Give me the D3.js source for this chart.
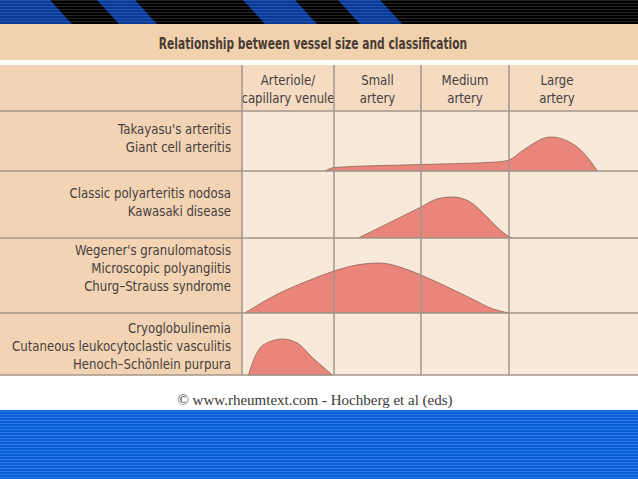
<!DOCTYPE html>
<html>
<head>
<meta charset="utf-8">
<script src="https://cdn.jsdelivr.net/npm/d3@7"></script>
<style>
  body { margin: 0; background: #fff; }
  svg { display: block; }
</style>
</head>
<body>
<script>
// column headings (vessel size), one array of lines per column
var vesselSizes = [
  ["Arteriole/", "capillary venule"],
  ["Small", "artery"],
  ["Medium", "artery"],
  ["Large", "artery"]
];

// row labels, one array of lines per row
var diseaseGroups = [
  ["Takayasu's arteritis", "Giant cell arteritis"],
  ["Classic polyarteritis nodosa", "Kawasaki disease"],
  ["Wegener's granulomatosis", "Microscopic polyangiitis", "Churg\u2013Strauss syndrome"],
  ["Cryoglobulinemia", "Cutaneous leukocytoclastic vasculitis", "Henoch\u2013Sch\u00f6nlein purpura"]
];

// [vessel size position (0 = start of arteriole column, 4 = end of large), relative involvement]
var largeVesselCurve = [[0.90, 0], [0.96, 5], [1.0, 7], [2.0, 13], [2.86, 18], [3.0, 22],
  [3.15, 42], [3.43, 68], [3.71, 48], [3.84, 22], [3.92, 0]];
var mediumVesselCurve = [[1.28, 0], [2.0, 62], [2.18, 78], [2.36, 82], [2.56, 72],
  [2.75, 42], [2.9, 16], [2.99, 4], [3.03, 0]];
var ancaCurve = [[0.03, 0], [0.41, 40], [0.74, 66], [1.0, 84], [1.26, 96], [1.53, 100],
  [1.79, 90], [2.0, 76], [2.3, 52], [2.56, 30], [2.82, 8], [3.0, 0]];
var smallVesselCurve = [[0.07, 0], [0.14, 36], [0.23, 60], [0.44, 72], [0.6, 64],
  [0.77, 34], [0.92, 10], [0.98, 0]];

var curves = [largeVesselCurve, mediumVesselCurve, ancaCurve, smallVesselCurve];

var chartTitle = "Relationship between vessel size and classification";
var footnote = "\u00a9 www.rheumtext.com - Hochberg et al (eds)";

var width = 638, height = 479;
var labelColRight = 242;
var headerTop = 65, headerBottom = 111;
var rowEdges = [111, 171, 238, 313, 375];
var labelNudge = [0, 1, -4, 5];
var lineColor = '#a2958a';
var textColor = '#463e3e';
var sans = '"DejaVu Sans", sans-serif';
var squeeze = 0.81; // the original uses a condensed face

var svg = d3.select('body')
  .append('svg')
  .attr('width', width)
  .attr('height', height);

var defs = svg.append('defs');

function scanlines(id, base, line, step) {
  var p = defs.append('pattern')
    .attr('id', id)
    .attr('patternUnits', 'userSpaceOnUse')
    .attr('width', 8)
    .attr('height', step);
  p.append('rect').attr('width', 8).attr('height', step).attr('fill', base);
  p.append('rect').attr('width', 8).attr('height', 1).attr('fill', line);
}
scanlines('darkLines', '#000', '#262626', 3);
scanlines('stripeLines', '#0c3a98', '#1f52ad', 3);
scanlines('bandLines', '#0a5ed6', '#2d7ce6', 3);

// top banner with slanted stripes
svg.append('rect')
  .attr('x', 0).attr('y', 0)
  .attr('width', width).attr('height', 24)
  .attr('fill', 'url(#darkLines)');

var stripes = [[0, 50], [97, 135], [243, 295], [338, 380]];
svg.selectAll('polygon.stripe')
  .data(stripes)
  .enter()
  .append('polygon')
  .attr('class', 'stripe')
  .attr('points', function(d) {
    var left = d[0] === 0 ? 0 : d[0] + 22;
    return [[d[0], 0], [d[1], 0], [d[1] + 22, 24], [left, 24]].join(' ');
  })
  .attr('fill', 'url(#stripeLines)');

// bottom blue band
svg.append('rect')
  .attr('x', 0).attr('y', 410)
  .attr('width', width).attr('height', height - 410)
  .attr('fill', 'url(#bandLines)');

// title band
svg.append('rect')
  .attr('x', 0).attr('y', 24)
  .attr('width', width).attr('height', 36)
  .attr('fill', '#f2d2ae');

svg.append('g')
  .attr('transform', 'translate(313,0) scale(0.69,1)')
  .append('text')
  .attr('x', 0)
  .attr('y', 49.5)
  .attr('text-anchor', 'middle')
  .attr('font-family', sans)
  .attr('font-weight', 'bold')
  .attr('font-size', 15.5)
  .attr('fill', '#4a3c34')
  .text(chartTitle);

// scales
var x = d3.scaleLinear()
  .domain([0, 1, 2, 3, 4])
  .range([242, 334, 421, 509, 605]);

var y = d3.scaleLinear()
  .domain([0, 100])
  .range([0, 50]);

// header row
svg.append('rect')
  .attr('x', 0).attr('y', headerTop)
  .attr('width', labelColRight).attr('height', headerBottom - headerTop)
  .attr('fill', '#f2d4b4');
svg.append('rect')
  .attr('x', labelColRight).attr('y', headerTop)
  .attr('width', width - labelColRight).attr('height', headerBottom - headerTop)
  .attr('fill', '#f4dbc2');

var headers = svg.selectAll('g.header')
  .data(vesselSizes)
  .enter()
  .append('g')
  .attr('class', 'header')
  .attr('transform', function(d, i) { return 'translate(' + x(i + 0.5) + ',0) scale(' + squeeze + ',1)'; })
  .append('text')
  .attr('text-anchor', 'middle')
  .attr('font-family', sans)
  .attr('font-size', 14.5)
  .attr('fill', textColor);

headers.selectAll('tspan')
  .data(function(d) { return d; })
  .enter()
  .append('tspan')
  .attr('x', 0)
  .attr('y', function(d, j) { return 85 + j * 18; })
  .text(function(d) { return d; });

// body rows
var rows = svg.selectAll('g.row')
  .data(diseaseGroups)
  .enter()
  .append('g')
  .attr('class', 'row');

rows.append('rect')
  .attr('x', 0)
  .attr('y', function(d, i) { return rowEdges[i]; })
  .attr('width', labelColRight)
  .attr('height', function(d, i) { return rowEdges[i + 1] - rowEdges[i]; })
  .attr('fill', '#f2d4b4');

rows.append('rect')
  .attr('x', labelColRight)
  .attr('y', function(d, i) { return rowEdges[i]; })
  .attr('width', width - labelColRight)
  .attr('height', function(d, i) { return rowEdges[i + 1] - rowEdges[i]; })
  .attr('fill', '#f9e9d9');

// curves
var area = d3.area()
  .curve(d3.curveMonotoneX)
  .x(function(d) { return x(d[0]); })
  .y0(0)
  .y1(function(d) { return -y(d[1]); });

rows.append('path')
  .attr('transform', function(d, i) { return 'translate(0,' + rowEdges[i + 1] + ')'; })
  .attr('d', function(d, i) { return area(curves[i]); })
  .attr('fill', '#e9857a')
  .attr('stroke', '#8c6459')
  .attr('stroke-width', 0.8);

// row labels
var lineHeight = 18;
rows.append('g')
  .attr('transform', 'translate(231,0) scale(' + squeeze + ',1)')
  .append('text')
  .attr('text-anchor', 'end')
  .attr('font-family', sans)
  .attr('font-size', 14.5)
  .attr('fill', textColor)
  .each(function(d, i) {
    var mid = (rowEdges[i] + rowEdges[i + 1]) / 2 - 3 + labelNudge[i];
    var first = mid - (d.length - 1) * lineHeight / 2;
    d3.select(this).selectAll('tspan')
      .data(d)
      .enter()
      .append('tspan')
      .attr('x', 0)
      .attr('y', function(t, j) { return first + j * lineHeight + 5; })
      .text(function(t) { return t; });
  });

// grid lines
svg.selectAll('line.hline')
  .data(rowEdges)
  .enter()
  .append('line')
  .attr('class', 'hline')
  .attr('x1', 0).attr('x2', width)
  .attr('y1', function(d) { return d; })
  .attr('y2', function(d) { return d; })
  .attr('stroke', lineColor)
  .attr('stroke-width', 1.5);

svg.selectAll('line.vline')
  .data([0, 1, 2, 3])
  .enter()
  .append('line')
  .attr('class', 'vline')
  .attr('x1', function(d) { return x(d); })
  .attr('x2', function(d) { return x(d); })
  .attr('y1', headerTop)
  .attr('y2', rowEdges[rowEdges.length - 1])
  .attr('stroke', lineColor)
  .attr('stroke-width', 1.5);

// source note
svg.append('text')
  .attr('x', 315)
  .attr('y', 405)
  .attr('text-anchor', 'middle')
  .attr('font-family', '"Liberation Serif", "DejaVu Serif", serif')
  .attr('font-size', 15)
  .attr('fill', '#3a3a3a')
  .text(footnote);
</script>
</body>
</html>
